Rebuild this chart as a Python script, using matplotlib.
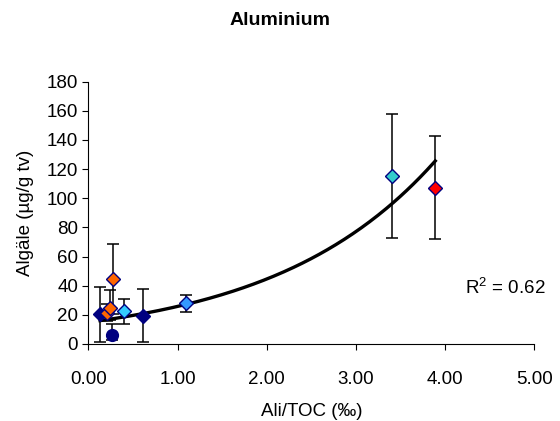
import numpy as np
import matplotlib
matplotlib.use("Agg")
import matplotlib.pyplot as plt

plt.rcParams['font.family'] = ['Liberation Sans', 'DejaVu Sans']
plt.rcParams['mathtext.fontset'] = 'custom'
plt.rcParams['mathtext.rm'] = 'Liberation Sans'

# data
ali_toc = [0.13, 0.21, 0.24, 0.28, 0.26, 0.40, 0.61, 1.09, 3.41, 3.89]
algae = [20.3, 21.5, 24.5, 44.6, 6.4, 22.4, 19.0, 28.3, 115.2, 107.2]
err_hi = [39.3, 27.5, 37.0, 68.6, 13.7, 30.6, 37.5, 33.6, 157.5, 142.6]
err_lo = [1.6, 15.5, 16.5, 20.6, 3.0, 13.5, 1.6, 22.2, 72.9, 72.0]
fill = ['#000080', '#FF6600', '#FF6600', '#FF6600', '#000080',
        '#33CCFF', '#000080', '#3399FF', '#33CCCC', '#FF0000']
marker = ['D', 'D', 'D', 'D', 'o', 'D', 'D', 'D', 'D', 'D']

# exponential trendline y = a*exp(b*x)
trend_a = 14.9
trend_b = 0.548
r2 = 0.62

fs = 13.5
fig = plt.figure(figsize=(5.6, 4.21), dpi=100)
ax = fig.add_axes([0.158, 0.183, 0.796, 0.623])

x = np.array(ali_toc)
y = np.array(algae)
yerr = np.array([y - np.array(err_lo), np.array(err_hi) - y])
ax.errorbar(x, y, yerr=yerr, fmt='none', ecolor='black', elinewidth=1.1,
            capsize=4.2, capthick=1.1, zorder=2)

xt = np.linspace(x.min(), x.max(), 200)
ax.plot(xt, trend_a * np.exp(trend_b * xt), color='black', lw=2.4, zorder=3)

for i in range(len(x)):
    ms = 7 if marker[i] == 'D' else 8.5
    ax.plot(x[i], y[i], marker=marker[i], ms=ms, mfc=fill[i], mec='#000080',
            mew=1.0, ls='none', zorder=4)

ax.text(4.67, 39, "R$^2$ = {0:.2f}".format(r2), ha='center', va='center', fontsize=fs)

ax.set_xlim(0, 5)
ax.set_ylim(0, 180)
ax.set_xticks(np.arange(0, 5.01, 1))
ax.set_xticklabels(["{0:.2f}".format(v) for v in np.arange(0, 5.01, 1)])
ax.set_yticks(np.arange(0, 181, 20))
ax.spines['top'].set_visible(False)
ax.spines['right'].set_visible(False)
ax.tick_params(direction='out', length=4.5, labelsize=fs, width=0.8)
ax.tick_params(axis='x', pad=15)
ax.tick_params(axis='y', pad=3)
ax.set_xlabel("Ali/TOC (‰)", fontsize=fs, labelpad=11)
ax.set_ylabel("Algäle (µg/g tv)", fontsize=fs, labelpad=9)
fig.text(0.5, 0.952, "Aluminium", ha='center', va='center', fontsize=14, fontweight='bold')

fig.savefig("out.png", dpi=100)
